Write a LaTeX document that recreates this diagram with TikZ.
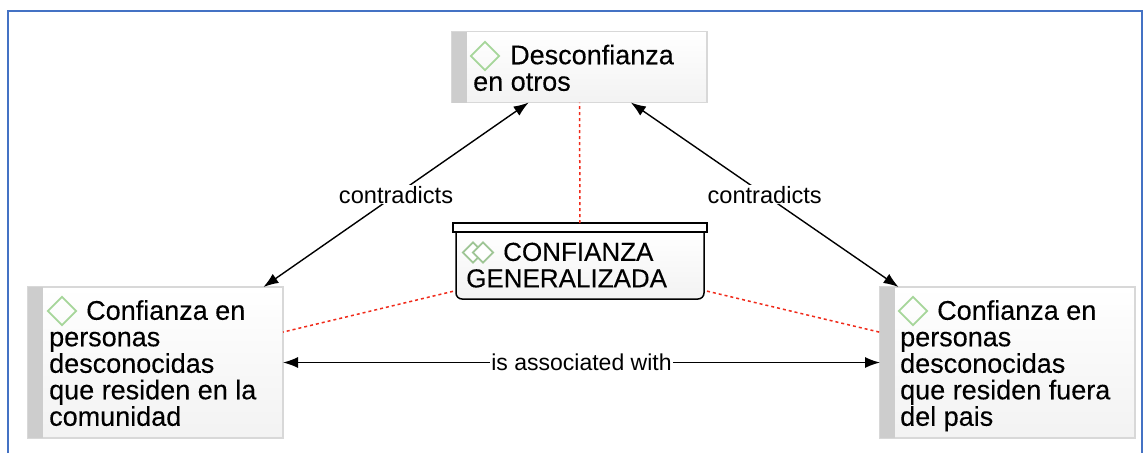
\documentclass[tikz,border=0pt]{standalone}
\usepackage{fontspec}
\setmainfont{Liberation Sans}
\newfontfamily\conceptfont[FakeBold=0.25]{Liberation Sans}
\usetikzlibrary{arrows.meta,calc,shapes.geometric}
\definecolor{framecol}{HTML}{4472C4}
\definecolor{stripcol}{HTML}{CDCDCD}
\definecolor{edgecol}{HTML}{D8D8D8}
\definecolor{diacol}{HTML}{A6D69A}
\definecolor{linkred}{HTML}{F02A1A}
\tikzset{
    conceptbox/.style={draw=edgecol, line width=1.5pt, top color=white, bottom color=black!5,
        minimum width=255pt, inner sep=0pt, outer sep=0pt},
    concepttext/.style={anchor=north west, inner sep=0pt, align=left, font=\conceptfont\fontsize{27}{26.5}\selectfont},
    mark diamond/.style={diamond, draw=diacol, line width=1.8pt, inner sep=0pt, aspect=1,
        minimum width=29pt, minimum height=29pt},
    small diamond/.style={mark diamond, minimum width=21pt, minimum height=21pt, draw=diacol!80!gray, fill=white},
    linklabel/.style={fill=white, inner sep=1pt, font=\fontsize{23.6}{24}\selectfont},
    relation/.style={draw=black, line width=1.4pt, {Latex[length=15pt,width=11pt]}-{Latex[length=15pt,width=11pt]}},
    memberlink/.style={draw=linkred, line width=1.5pt, dash pattern=on 3pt off 3pt},
}
\begin{document}
\begin{tikzpicture}[x=1pt,y=-1pt]
    \useasboundingbox (0,0) rectangle (1145,453);
    % Rahmen
    \draw[framecol, line width=1.6pt] (8,453) -- (8,11) -- (1142,11) -- (1142,453);

    % Konzepte
    \node[conceptbox, minimum height=71pt] (desconfianza) at (579.5,67) {};
    \node[conceptbox, minimum height=151pt] (comunidad) at (155.5,362.5) {};
    \node[conceptbox, minimum height=151pt] (fuera) at (1007.5,362.5) {};
    \foreach \n in {desconfianza,comunidad,fuera} {
        \fill[stripcol] (\n.north west) rectangle ($(\n.south west)+(15,0)$);
    }

    % Gruppe in der Mitte
    \coordinate (bl) at (456,299);
    \node[minimum width=254pt, minimum height=76pt, inner sep=0pt, outer sep=0pt] (generalizada) at (580,261) {};
    \draw[line width=1.5pt, rounded corners=6pt, top color=white, bottom color=black!5]
        (456,232) -- (bl) -- (704,299) -- (704,232);
    \draw[line width=1.5pt, fill=white] (generalizada.north west) rectangle ($(generalizada.north east)+(0,9)$);

    % Texte
    \node[mark diamond] (mark1) at (485,56) {};
    \node[concepttext] (text1) at (473,44.5) {\hspace*{37pt}Desconfianza\\en otros};
    \node[mark diamond] (mark2) at (62,311) {};
    \node[concepttext] (text2) at (49,300) {\hspace*{37pt}Confianza en\\personas\\desconocidas\\que residen en la\\comunidad};
    \node[mark diamond] (mark3) at (913,311) {};
    \node[concepttext] (text3) at (900,300) {\hspace*{37pt}Confianza en\\personas\\desconocidas\\que residen fuera\\del pais};
    \node[small diamond] (mark4a) at (473,252.5) {};
    \node[small diamond] (mark4b) at (483,252.5) {};
    \node[concepttext, font=\conceptfont\fontsize{26}{26.5}\selectfont] (text4) at (466,242.5) {\hspace*{37pt}CONFIANZA\\GENERALIZADA};

    % Verbindungen
    \draw[memberlink] (generalizada) -- (desconfianza);
    \draw[memberlink] (generalizada) -- (comunidad);
    \draw[memberlink] (generalizada) -- (fuera);
    \draw[relation] (desconfianza) -- node[linklabel] (lab1) {contradicts} (comunidad);
    \draw[relation] (desconfianza) -- node[linklabel] (lab2) {contradicts} (fuera);
    \draw[relation] (comunidad) -- node[linklabel, font=\fontsize{23}{24}\selectfont] (lab3) {is associated with} (fuera);
\end{tikzpicture}
\end{document}
